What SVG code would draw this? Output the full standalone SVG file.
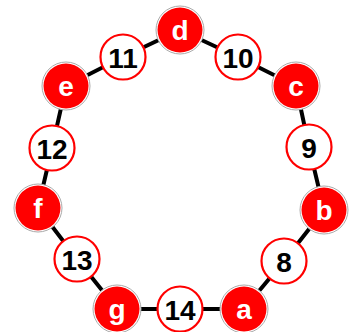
<svg xmlns="http://www.w3.org/2000/svg" width="352" height="332" viewBox="0 0 352 332">
<style>
.edge{stroke:#000;stroke-width:4;fill:none}
.wc{fill:#fff;stroke:#f00;stroke-width:2.2}
.ro{fill:#fff;stroke:#aaa;stroke-width:1}
.rc{fill:#f00}
.wt{font-family:"Liberation Sans",Arial,sans-serif;font-weight:bold;font-size:28px;fill:#000;text-anchor:middle;dominant-baseline:central}
.rt{font-family:"Liberation Sans",Arial,sans-serif;font-weight:bold;font-size:28px;fill:#fff;text-anchor:middle;dominant-baseline:central}
</style>
<rect width="352" height="332" fill="#fff"/>
<g id="connectors">
<polygon class="edge" points="180,30 238,57 296,86 309,147 324,210 284,261 244,309 180,309 117,309 77,259 38,208 52,148 66,86 123,57"/>
</g>
<g id="node-d"><circle class="ro" cx="180" cy="30" r="24"/><circle class="rc" cx="180" cy="30" r="22.5"/><text class="rt" x="180" y="30">d</text></g>
<g id="node-10"><circle class="wc" cx="238" cy="57" r="22.5"/><text class="wt" x="238" y="58">10</text></g>
<g id="node-c"><circle class="ro" cx="296" cy="86" r="24"/><circle class="rc" cx="296" cy="86" r="22.5"/><text class="rt" x="296" y="86">c</text></g>
<g id="node-9"><circle class="wc" cx="309" cy="147" r="22.5"/><text class="wt" x="309" y="148">9</text></g>
<g id="node-b"><circle class="ro" cx="324" cy="210" r="24"/><circle class="rc" cx="324" cy="210" r="22.5"/><text class="rt" x="324" y="210">b</text></g>
<g id="node-8"><circle class="wc" cx="284" cy="261" r="22.5"/><text class="wt" x="284" y="262">8</text></g>
<g id="node-a"><circle class="ro" cx="244" cy="309" r="24"/><circle class="rc" cx="244" cy="309" r="22.5"/><text class="rt" x="244" y="309">a</text></g>
<g id="node-14"><circle class="wc" cx="180" cy="309" r="22.5"/><text class="wt" x="180" y="310">14</text></g>
<g id="node-g"><circle class="ro" cx="117" cy="309" r="24"/><circle class="rc" cx="117" cy="309" r="22.5"/><text class="rt" x="117" y="309">g</text></g>
<g id="node-13"><circle class="wc" cx="77" cy="259" r="22.5"/><text class="wt" x="77" y="260">13</text></g>
<g id="node-f"><circle class="ro" cx="38" cy="208" r="24"/><circle class="rc" cx="38" cy="208" r="22.5"/><text class="rt" x="38" y="208">f</text></g>
<g id="node-12"><circle class="wc" cx="52" cy="148" r="22.5"/><text class="wt" x="52" y="149">12</text></g>
<g id="node-e"><circle class="ro" cx="66" cy="86" r="24"/><circle class="rc" cx="66" cy="86" r="22.5"/><text class="rt" x="66" y="86">e</text></g>
<g id="node-11"><circle class="wc" cx="123" cy="57" r="22.5"/><text class="wt" x="123" y="58">11</text></g>
</svg>
